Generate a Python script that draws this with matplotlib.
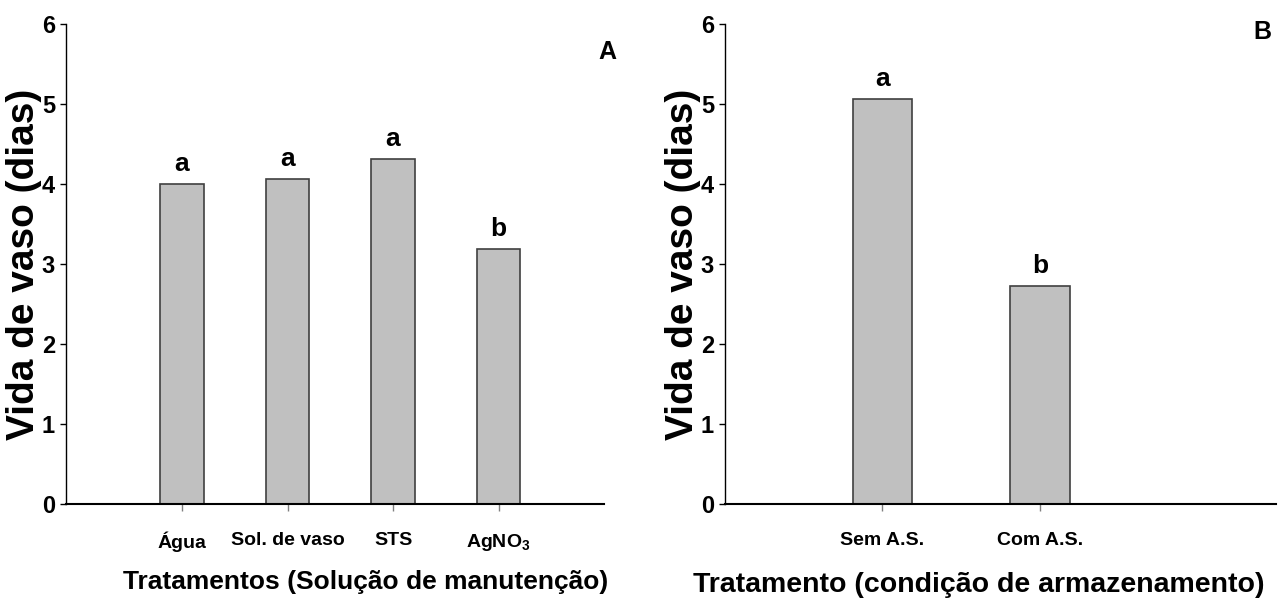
import matplotlib
matplotlib.use("Agg")
import matplotlib.pyplot as plt

# vase life (days) per treatment
trat_a = ['Água', 'Sol. de vaso', 'STS', r'AgNO$_\mathbf{3}$']
vida_a = [4.00, 4.06, 4.31, 3.19]
letras_a = ['a', 'a', 'a', 'b']

trat_b = ['Sem A.S.', 'Com A.S.']
vida_b = [5.06, 2.72]
letras_b = ['a', 'b']

plt.rcParams['font.family'] = ['Liberation Sans', 'DejaVu Sans']
plt.rcParams['mathtext.fontset'] = 'custom'
plt.rcParams['mathtext.bf'] = 'Liberation Sans:bold'
plt.rcParams['mathtext.rm'] = 'Liberation Sans:bold'

fig = plt.figure(figsize=(12.79, 6.01), dpi=100)
ax_a = fig.add_axes([66 / 1279, 0.1614, 538 / 1279, 0.7987])
ax_b = fig.add_axes([725 / 1279, 0.1614, 551 / 1279, 0.7987])


def painel(ax, nomes, vals, letras, largura, xlim, xlabel, xl_size, xl_pos, yl_x, tag, tag_pos):
    pos = list(range(1, len(vals) + 1))
    ax.bar(pos, vals, width=largura, color='#c0c0c0', edgecolor='#404040', linewidth=1.2)
    for p, v, l in zip(pos, vals, letras):
        ax.text(p, v + 0.1, l, ha='center', va='bottom', fontsize=19, fontweight='bold')
    ax.set_xlim(*xlim)
    ax.set_ylim(0, 6)
    ax.set_yticks(range(7))
    ax.set_xticks(pos)
    ax.set_xticklabels(nomes, fontsize=14, fontweight='bold')
    for t in ax.get_yticklabels():
        t.set_fontsize(17)
        t.set_fontweight('bold')
    ax.spines['top'].set_visible(False)
    ax.spines['right'].set_visible(False)
    ax.spines['left'].set_linewidth(1.0)
    ax.spines['bottom'].set_linewidth(1.5)
    ax.tick_params(axis='y', direction='out', length=4, width=1, pad=4)
    ax.tick_params(axis='x', direction='out', length=5, width=1, color='#808080', pad=15)
    ax.set_ylabel('Vida de vaso (dias)', fontsize=28, fontweight='bold', va='center')
    ax.yaxis.set_label_coords(yl_x, 0.5)
    ax.set_xlabel(xlabel, fontsize=xl_size, fontweight='bold', va='center')
    ax.xaxis.set_label_coords(*xl_pos)
    ax.text(tag_pos[0], tag_pos[1], tag, transform=ax.transAxes, ha='center', va='center',
            fontsize=18, fontweight='bold')


painel(ax_a, trat_a, vida_a, letras_a, 0.41, (-0.1, 5.0),
       'Tratamentos (Solução de manutenção)', 19, (0.556, -0.1625), -0.078,
       'A', (1.0056, 0.942))
painel(ax_b, trat_b, vida_b, letras_b, 0.38, (0.0, 3.5),
       'Tratamento (condição de armazenamento)', 20.5, (0.461, -0.168), -0.076,
       'B', (0.9746, 0.983))

fig.savefig('out.png', dpi=100)
